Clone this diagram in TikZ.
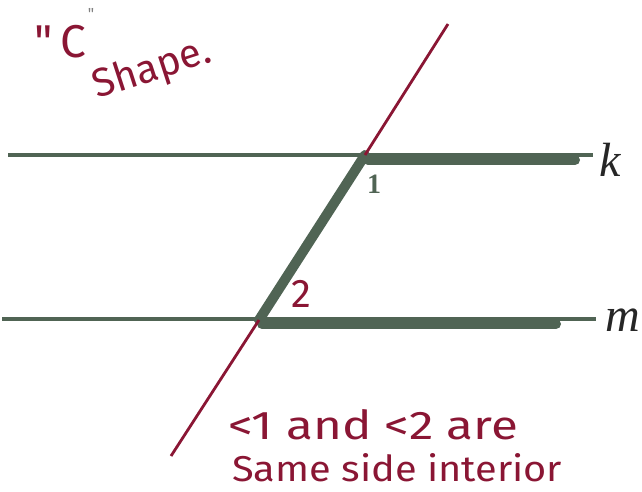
\documentclass[tikz,border=0pt]{standalone}
\usepackage{fontspec}
\setmainfont{Liberation Serif}
\newfontfamily\handfont{Fira Sans}
\definecolor{lgreen}{RGB}{80,100,84}
\definecolor{pen}{RGB}{138,22,52}
\begin{document}
\begin{tikzpicture}[x=1pt,y=-1pt,
  thinline/.style={draw=lgreen,line width=3.5pt},
  thick highlight/.style={draw=lgreen,line width=10pt,line cap=round},
  transv/.style={draw=pen,line width=2.8pt},
  hand/.style={text=pen,font=\handfont,inner sep=0pt},
  lbl/.style={font=\itshape\fontsize{48}{48}\selectfont,text=black!85,inner sep=0pt}]
\useasboundingbox (0,0) rectangle (642,491);
% key points
\coordinate (kL) at (8,155);
\coordinate (kR) at (593,155);
\coordinate (mL) at (2,319);
\coordinate (mR) at (596,319);
\coordinate (tTop) at (448,24);
\coordinate (P1) at (365,155);
\coordinate (P2) at (259,320);
\coordinate (tBot) at (171,456);
% highlights
\draw[thick highlight] (368,160) -- (575,160);
\draw[thick highlight] (262,324) -- (556,324);
\draw[thick highlight] (P1) -- (P2);
% lines
\draw[thinline] (kL) -- (kR);
\draw[thinline] (mL) -- (mR);
\draw[transv] (tTop) -- (P1);
\draw[transv] (P2) -- (tBot);
% labels
\node[lbl] (k) at (610,160) {k};
\node[lbl] (m) at (623,320) {m};
\node[text=lgreen,font=\bfseries\fontsize{28}{28}\selectfont,inner sep=0pt] (one) at (374,184) {1};
\node[text=pen,font=\handfont\fontsize{40}{40}\selectfont,inner sep=0pt] (two) at (301,294) {2};
% handwritten notes
\node[hand,font=\handfont\fontsize{46}{46}\selectfont] (cq) at (60,42) {\textquotedbl\,C};
\node[hand,font=\handfont\fontsize{16}{16}\selectfont,text=gray] (cq2) at (91,14) {\textquotedbl};
\node[hand,font=\handfont\fontsize{40}{40}\selectfont,rotate=18] (shape) at (152,70) {Shape.};
\node[hand,anchor=south west] (t1) at (228,440) {\resizebox{290pt}{30pt}{<1 and <2 are}};
\node[hand,anchor=south west] (t2) at (232,482) {\resizebox{330pt}{28pt}{Same side interior}};
\end{tikzpicture}
\end{document}
